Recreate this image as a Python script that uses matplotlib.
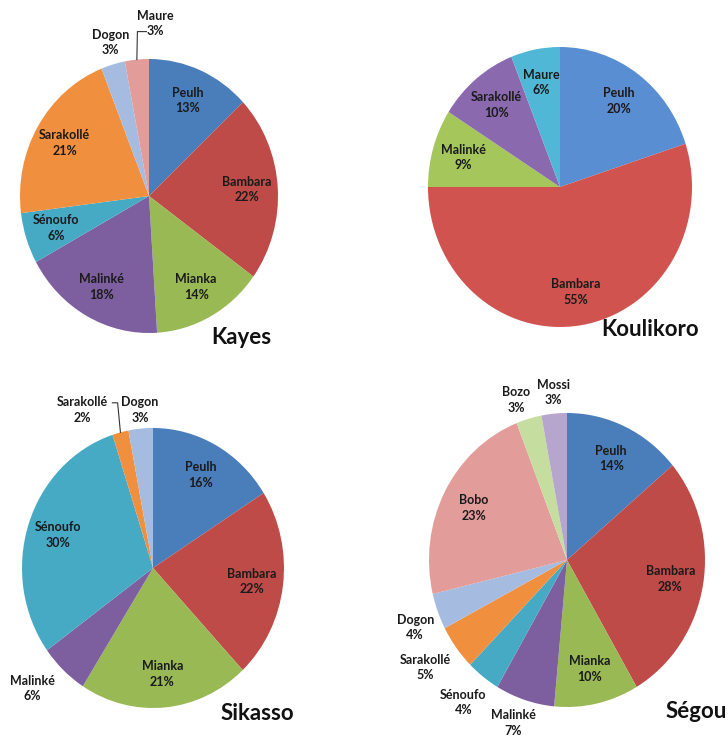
import numpy as np
import matplotlib.pyplot as plt

plt.rcParams['font.family'] = ['Lato', 'DejaVu Sans']

W, H = 728, 738

# data (percent)
kayes_labels = ['Peulh', 'Bambara', 'Mianka', 'Malinké', 'Sénoufo', 'Sarakollé', 'Dogon', 'Maure']
kayes_values = [13, 22, 14, 18, 6, 21, 3, 3]

koulikoro_labels = ['Peulh', 'Bambara', 'Malinké', 'Sarakollé', 'Maure']
koulikoro_values = [20, 55, 9, 10, 6]

sikasso_labels = ['Peulh', 'Bambara', 'Mianka', 'Malinké', 'Sénoufo', 'Sarakollé', 'Dogon']
sikasso_values = [16, 22, 21, 6, 30, 2, 3]

segou_labels = ['Peulh', 'Bambara', 'Mianka', 'Malinké', 'Sénoufo', 'Sarakollé', 'Dogon', 'Bobo', 'Bozo', 'Mossi']
segou_values = [14, 28, 10, 7, 4, 5, 4, 23, 3, 3]

# excel 2007 style palette
PALETTE = ['#4A7EBB', '#BE4B48', '#98B954', '#7D5FA0', '#46AAC5',
           '#F0903F', '#A5BCE0', '#E29D9B', '#C6DDA0', '#B6A5CC']
PALETTE_BRIGHT = ['#5A8ED2', '#D0534F', '#A4C65A', '#8A69AF', '#50B7D6']

fig = plt.figure(figsize=(W / 100, H / 100), dpi=100)


def draw_pie(labels, values, colors, cx, cy, rx, ry, title, title_xy,
             outside=None, leaders=None, r_in=0.76):
    outside = outside or {}
    leaders = leaders or {}
    ax = fig.add_axes([(cx - rx) / W, 1 - (cy + ry) / H, 2 * rx / W, 2 * ry / H])
    wedges, _ = ax.pie(values, colors=colors, startangle=90, counterclock=False,
                       radius=1, wedgeprops=dict(linewidth=0))
    ax.set_xlim(-1, 1)
    ax.set_ylim(-1, 1)
    ax.set_aspect('auto')
    ax.axis('off')
    for w, lab, v in zip(wedges, labels, values):
        th = np.deg2rad((w.theta1 + w.theta2) / 2)
        txt = f'{lab}\n{v}%'
        if lab in outside:
            x, y = outside[lab]
        else:
            x, y = r_in * np.cos(th), r_in * np.sin(th)
        ax.text(x, y, txt, ha='center', va='center', fontsize=9,
                fontweight='bold', color='#1a1a1a', linespacing=1.35)
        if lab in leaders:
            pts = list(leaders[lab]) + [(np.cos(th), np.sin(th))]
            xs, ys = zip(*pts)
            ax.plot(xs, ys, color='#333333', lw=0.8, clip_on=False)
    fig.text(title_xy[0] / W, 1 - title_xy[1] / H, title, ha='center', va='center',
             fontsize=16, fontweight='bold', color='#111111')


draw_pie(kayes_labels, kayes_values, PALETTE[:8], 149, 196, 129, 137, 'Kayes', (241, 337),
         outside={'Dogon': (-0.30, 1.12), 'Maure': (0.05, 1.26)},
         leaders={'Maure': [(-0.02, 1.20), (-0.09, 1.20)]})

draw_pie(koulikoro_labels, koulikoro_values, PALETTE_BRIGHT, 560, 187, 132, 140,
         'Koulikoro', (650, 330))

draw_pie(sikasso_labels, sikasso_values, PALETTE[:7], 153, 568, 131, 140, 'Sikasso', (257, 714),
         outside={'Sarakollé': (-0.54, 1.13), 'Dogon': (-0.10, 1.13), 'Malinké': (-0.92, -0.86)},
         leaders={'Sarakollé': [(-0.31, 1.18), (-0.27, 1.18)]})

draw_pie(segou_labels, segou_values, PALETTE, 567, 560, 138, 147, 'Ségou', (696, 711),
         outside={'Bozo': (-0.37, 1.09), 'Mossi': (-0.10, 1.14), 'Dogon': (-1.10, -0.46),
                  'Sarakollé': (-1.03, -0.73), 'Sénoufo': (-0.75, -0.97),
                  'Malinké': (-0.39, -1.11)})

fig.savefig('out.png', dpi=100)
